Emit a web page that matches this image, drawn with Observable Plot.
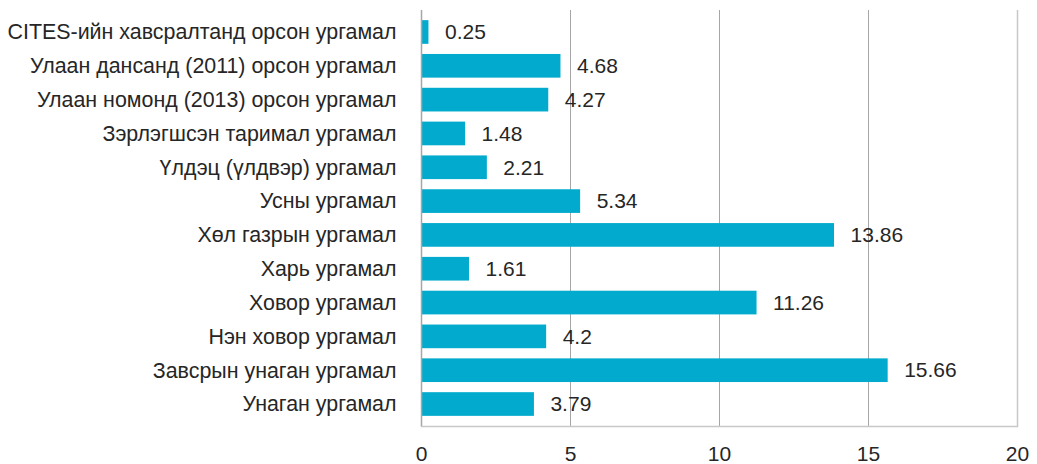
<!DOCTYPE html>
<html>
<head>
<meta charset="utf-8">
<script src="https://cdn.jsdelivr.net/npm/d3@7"></script>
<script src="https://cdn.jsdelivr.net/npm/@observablehq/plot@0.6"></script>
<style>
  html, body { margin: 0; padding: 0; background: #fff; }
  #chart svg { display: block; }
</style>
</head>
<body>
<div id="chart"></div>
<script>
const categories = [
  "CITES-ийн хавсралтанд орсон ургамал",
  "Улаан дансанд (2011) орсон ургамал",
  "Улаан номонд (2013) орсон ургамал",
  "Зэрлэгшсэн таримал ургамал",
  "Үлдэц (үлдвэр) ургамал",
  "Усны ургамал",
  "Хөл газрын ургамал",
  "Харь ургамал",
  "Ховор ургамал",
  "Нэн ховор ургамал",
  "Завсрын унаган ургамал",
  "Унаган ургамал"
];
const values = [0.25, 4.68, 4.27, 1.48, 2.21, 5.34, 13.86, 1.61, 11.26, 4.2, 15.66, 3.79];
const valueLabels = ["0.25", "4.68", "4.27", "1.48", "2.21", "5.34", "13.86", "1.61", "11.26", "4.2", "15.66", "3.79"];
const xTicks = [0, 5, 10, 15, 20];

const data = categories.map((c, i) => ({category: c, value: values[i], label: valueLabels[i]}));

const chart = Plot.plot({
  width: 1037,
  height: 464,
  marginLeft: 421,
  marginRight: 20,
  marginTop: 10,
  marginBottom: 38,
  style: {fontFamily: "'Liberation Sans', Arial, sans-serif", fontSize: "21px", color: "#262626", background: "#fff"},
  x: {domain: [0, 20], ticks: xTicks, label: null},
  y: {domain: categories, padding: 0.3, round: false, label: null},
  marks: [
    Plot.ruleX(xTicks.filter(t => t > 0 && t < 20), {stroke: "#a6a6a6", strokeWidth: 1, strokeOpacity: 1}),
    Plot.ruleX([20], {stroke: "#c8c8c8", strokeWidth: 1.5, strokeOpacity: 1}),
    Plot.frame({anchor: "bottom", stroke: "#c8c8c8", strokeWidth: 1.5}),
    Plot.barX(data, {y: "category", x: "value", fill: "#02abcd"}),
    Plot.ruleX([0], {stroke: "#a6a6a6", strokeWidth: 1.5, strokeOpacity: 1}),
    Plot.text(data, {y: "category", x: "value", text: "label", textAnchor: "start", dx: 16, fill: "#262626", fontSize: 21}),
    Plot.axisY({tickSize: 0, tickPadding: 25, fontSize: 21.4, fill: "#262626"}),
    Plot.axisX(xTicks, {tickSize: 0, tickPadding: 20, fontSize: 21, fill: "#262626", tickFormat: d => String(d)})
  ]
});
document.getElementById("chart").appendChild(chart);
</script>
</body>
</html>
